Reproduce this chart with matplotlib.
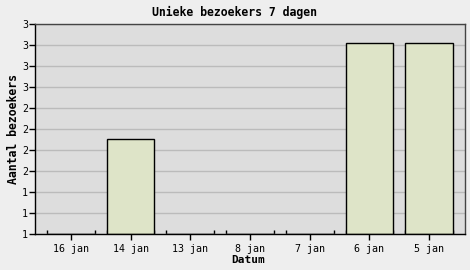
import matplotlib
matplotlib.use("Agg")

import matplotlib.pyplot as plt
from matplotlib.ticker import FixedLocator, FuncFormatter
import numpy as np

# Unique visitors per day (last 7 days)
days = ["16 jan", "14 jan", "13 jan", "8 jan", "7 jan", "6 jan", "5 jan"]
visitors = [1, 2, 1, 1, 1, 3, 3]

Y_MIN = 1
Y_MAX = 3.2
N_STEPS = 10

MONO = "DejaVu Sans Mono"


def main():
	fig = plt.figure(figsize=(4.7, 2.7), dpi=100, facecolor="#eeeeee")
	ax = fig.add_axes([35 / 470, 36 / 270, 430 / 470, 210 / 270])
	ax.set_facecolor("#dddddd")

	x = np.arange(len(days))
	heights = [v - Y_MIN for v in visitors]
	ax.bar(x, heights, bottom=Y_MIN, width=0.8, color="#dee4c8",
		edgecolor="black", linewidth=1, zorder=2)

	ax.set_xlim(-0.6, len(days) - 0.4)
	ax.set_ylim(Y_MIN, Y_MAX)

	# y ticks: 10 steps, labels rounded like the original graph lib
	ax.yaxis.set_major_locator(FixedLocator(np.linspace(Y_MIN, Y_MAX, N_STEPS + 1)))
	ax.yaxis.set_major_formatter(FuncFormatter(lambda v, p: "%.0f" % v))
	ax.grid(axis="y", color="#bbbbbb", linewidth=1, zorder=1)
	ax.set_axisbelow(True)

	ax.set_xticks(x)
	ax.set_xticklabels(days)
	edges = np.concatenate([x - 0.4, x + 0.4])
	ax.xaxis.set_minor_locator(FixedLocator(edges))

	ax.tick_params(axis="x", which="major", direction="out", length=4, width=1,
		color="black", pad=3, labelsize=7.2)
	ax.tick_params(axis="x", which="minor", direction="in", length=3, width=1, color="black")
	ax.tick_params(axis="y", which="major", direction="out", length=4, width=1,
		color="black", pad=1, labelsize=7.2)
	for lbl in ax.get_xticklabels() + ax.get_yticklabels():
		lbl.set_family(MONO)

	ax.spines["left"].set_color("black")
	ax.spines["bottom"].set_color("black")
	ax.spines["top"].set_color("#444444")
	ax.spines["right"].set_color("#444444")
	for s in ax.spines.values():
		s.set_linewidth(1)
		s.set_zorder(3)

	fig.text(235 / 470, 1 - 12 / 270, "Unieke bezoekers 7 dagen", ha="center", va="center",
		family=MONO, fontweight="bold", fontsize=8.3)
	fig.text(14 / 470, 1 - 129 / 270, "Aantal bezoekers", ha="center", va="center",
		rotation=90, family=MONO, fontweight="bold", fontsize=8.3)
	fig.text(248 / 470, 1 - 260 / 270, "Datum", ha="center", va="center",
		family=MONO, fontweight="bold", fontsize=8.0)

	fig.savefig("out.png", dpi=100, facecolor=fig.get_facecolor())


if __name__ == "__main__":
	main()
